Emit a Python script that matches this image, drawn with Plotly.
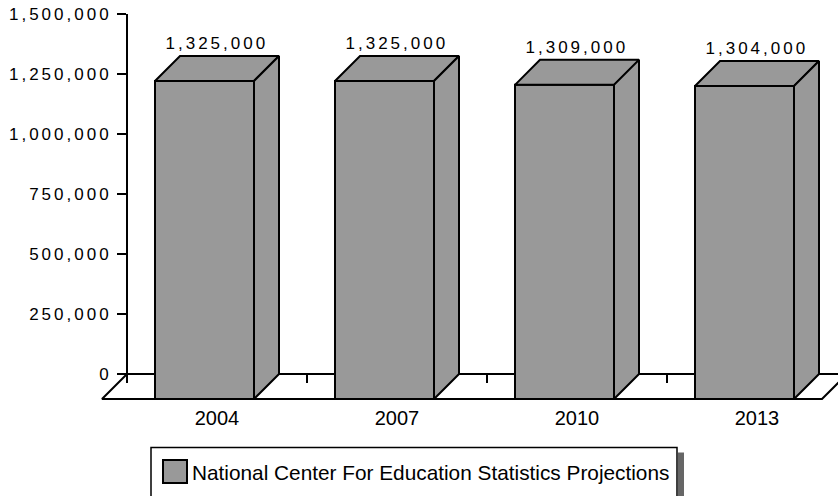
import plotly.graph_objects as go

# ---------------- data ----------------
categories = ["2004", "2007", "2010", "2013"]
values = [1325000, 1325000, 1309000, 1304000]
y_ticks = [0, 250000, 500000, 750000, 1000000, 1250000, 1500000]
series_name = "National Center For Education Statistics Projections"

# ---------------- geometry / style ----------------
W, H = 838, 496
FONT = "Liberation Sans, Arial, Helvetica, sans-serif"
BAR_FILL = "#999999"
LINE = "#000000"
NUM_SIZE = 17

PX_PER_CAT = 180.0          # pixels per category on the back wall
PX_PER_VAL = 240.0 / 1e6    # pixels per unit of value
CAT0_PX = 217.0             # pixel x of first category centre (back wall)
ZERO_PX = 374.0             # pixel y of value 0 (back wall)
DEPTH_PX = 25.0             # 3-D depth offset
BAR_W = 0.55                # bar width in category units

x_range = [(0 - CAT0_PX) / PX_PER_CAT, (W - CAT0_PX) / PX_PER_CAT]
y_range = [(ZERO_PX - H) / PX_PER_VAL, ZERO_PX / PX_PER_VAL]
dx = DEPTH_PX / PX_PER_CAT
dy = DEPTH_PX / PX_PER_VAL
n = len(categories)


def px_x(p):
    return p / W


def px_y(p):
    return 1 - p / H


fig = go.Figure()


def poly(xs, ys, fill):
    fig.add_trace(go.Scatter(
        x=xs + [xs[0]], y=ys + [ys[0]], mode="lines", fill="toself",
        fillcolor=fill, line=dict(color=LINE, width=2),
        hoverinfo="skip", showlegend=False, xaxis="x", yaxis="y"))


# floor
left, right = -0.5, n - 0.5
poly([left, right, right - dx, left - dx], [0, 0, -dy, -dy], "#ffffff")

# bars (front, top, side faces)
for i, v in enumerate(values):
    bl = i - BAR_W / 2 + dx / 2
    br = bl + BAR_W
    fl, fr = bl - dx, br - dx
    poly([fl, fr, fr, fl], [-dy, -dy, v - dy, v - dy], BAR_FILL)
    poly([fl, bl, br, fr], [v - dy, v, v, v - dy], BAR_FILL)
    poly([fr, br, br, fr], [-dy, 0, v, v - dy], BAR_FILL)

# dummy traces so the helper axes exist
fig.add_trace(go.Scatter(x=[None], y=[None], xaxis="x", yaxis="y2",
                         showlegend=False, hoverinfo="skip"))
fig.add_trace(go.Scatter(x=[None], y=[None], xaxis="x3", yaxis="y",
                         showlegend=False, hoverinfo="skip"))

# value labels
for i, v in enumerate(values):
    fig.add_annotation(x=i, y=v, xref="x", yref="y", text=f"{v:,}",
                       showarrow=False, yanchor="bottom", yshift=1,
                       font=dict(family=FONT, size=NUM_SIZE, color="#000"))

# legend (drawn manually)
lg_l, lg_t, lg_r, lg_b = 151, 447.5, 677, 520
fig.add_shape(type="rect", xref="paper", yref="paper",
              x0=px_x(lg_r + 1), x1=px_x(lg_r + 7), y0=px_y(lg_b + 5), y1=px_y(lg_t + 5),
              fillcolor="#666666", line=dict(width=0), layer="above")
fig.add_shape(type="rect", xref="paper", yref="paper",
              x0=px_x(lg_l), x1=px_x(lg_r), y0=px_y(lg_b), y1=px_y(lg_t),
              fillcolor="#ffffff", line=dict(color=LINE, width=1.5), layer="above")
fig.add_shape(type="rect", xref="paper", yref="paper",
              x0=px_x(163), x1=px_x(187), y0=px_y(483), y1=px_y(460),
              fillcolor=BAR_FILL, line=dict(color=LINE, width=2), layer="above")
fig.add_annotation(x=px_x(190), y=px_y(472), xref="paper", yref="paper",
                   text=series_name, showarrow=False, xanchor="left",
                   yanchor="middle", align="left",
                   font=dict(family=FONT, size=20.8, color="#000"))

fig.update_layout(
    width=W, height=H, autosize=False,
    margin=dict(l=0, r=0, t=0, b=0, pad=0, autoexpand=False),
    paper_bgcolor="#ffffff", plot_bgcolor="rgba(0,0,0,0)",
    showlegend=False,
    font=dict(family=FONT, size=16, color="#000"),
    xaxis=dict(range=x_range, domain=[0, 1], anchor="free",
               position=px_y(404), tickmode="array", automargin=False,
               tickvals=list(range(n)), ticktext=categories,
               ticks="", showline=False, showgrid=False, zeroline=False,
               tickfont=dict(family=FONT, size=20, color="#000")),
    xaxis3=dict(range=x_range, overlaying="x", anchor="free",
                position=px_y(ZERO_PX), tickmode="array", automargin=False,
                tickvals=[i - 0.5 for i in range(n + 1)],
                ticks="outside", ticklen=8, tickwidth=2, tickcolor=LINE,
                showticklabels=False, showline=False, showgrid=False,
                zeroline=False),
    yaxis=dict(range=y_range, domain=[0, 1], visible=False, automargin=False,
               showgrid=False, zeroline=False),
    yaxis2=dict(range=[0, max(y_ticks)], automargin=False,
                domain=[px_y(ZERO_PX), px_y(ZERO_PX - max(y_ticks) * PX_PER_VAL)],
                anchor="free", position=px_x(CAT0_PX - PX_PER_CAT / 2),
                side="left", tickmode="array", tickvals=y_ticks,
                ticktext=[f"{t:,}" for t in y_ticks],
                ticks="outside", ticklen=9, tickwidth=2, tickcolor=LINE,
                showline=True, linewidth=2, linecolor=LINE,
                showgrid=False, zeroline=False, ticklabelstandoff=2,
                tickfont=dict(family=FONT, size=NUM_SIZE, color="#000")),
)

# the original draws its numeric labels with wide letter tracking
spacing_js = """
var gd = document.getElementById('{plot_id}');
gd.querySelectorAll('text').forEach(function(t){
  var s = t.textContent || '';
  if (s.indexOf(',') >= 0 || s === '0') { t.style.letterSpacing = '3px'; }
});
"""

fig.write_html("out.html", post_script=spacing_js)
